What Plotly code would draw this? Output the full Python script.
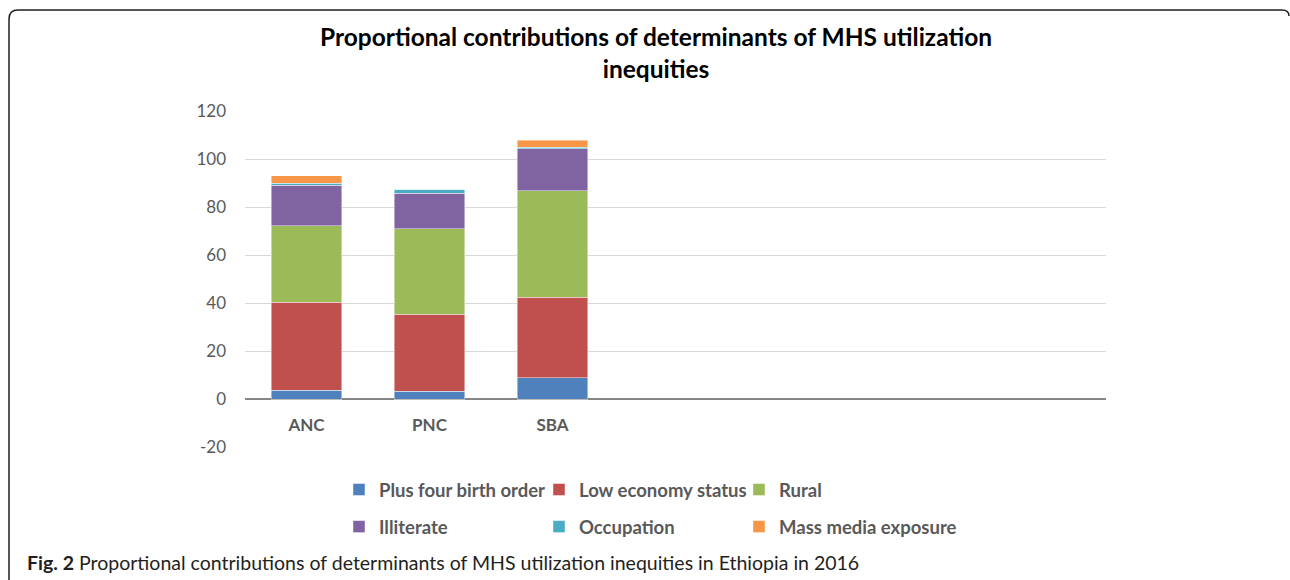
import plotly.graph_objects as go

categories = ["ANC", "PNC", "SBA"]
series_names = ["Plus four birth order", "Low economy status", "Rural",
                "Illiterate", "Occupation", "Mass media exposure"]
plus_four_birth_order = [3.6, 3.3, 8.8]
low_economy_status = [36.7, 32.1, 33.6]
rural = [31.9, 35.6, 44.4]
illiterate = [16.8, 14.7, 17.4]
occupation = [1.0, 1.8, 0.7]
mass_media_exposure = [3.1, 0.0, 2.9]
series_values = [plus_four_birth_order, low_economy_status, rural,
                 illiterate, occupation, mass_media_exposure]
colors = ["#4f81bd", "#c0504d", "#9bbb59", "#8064a2", "#4bacc6", "#f79646"]
y_ticks = [-20, 0, 20, 40, 60, 80, 100, 120]
y_tick_labels = ["-20", "0", "20", "40", "60", "80", "100", "120"]
y_range = [-20, 120]

W, H = 1290, 580
ML, MR, MT, MB = 245, 184, 111, 133
PW, PH = W - ML - MR, H - MT - MB


def px(x):
    return (x - ML) / PW


def py(y):
    return (H - MB - y) / PH


legend_ids = ["legend", "legend2", "legend3"]

fig = go.Figure()
xpos = list(range(len(categories)))
for i, (name, vals, col) in enumerate(zip(series_names, series_values, colors)):
    fig.add_trace(go.Bar(
        x=xpos, y=vals, name=name, width=0.57,
        marker=dict(color=col, line=dict(color="rgba(255,255,255,0.55)", width=0.8)),
        legend=legend_ids[i % 3], legendgroup=f"g{i}",
    ))

font_main = "Lato, 'Open Sans', Arial, sans-serif"
legend_common = dict(
    orientation="v", xanchor="left", yanchor="middle",
    font=dict(family=font_main, size=18.5, color="#595959", weight="bold"),
    bgcolor="rgba(0,0,0,0)", borderwidth=0, itemclick=False,
    traceorder="grouped", tracegroupgap=10,
)

frame = (f"M {px(9)},{py(580)} L {px(9)},{py(19)} Q {px(9)},{py(10)} {px(18)},{py(10)} "
         f"L {px(1282)},{py(10)} Q {px(1289)},{py(10)} {px(1289)},{py(16)}")

zero_pos = (0 - y_range[0]) / (y_range[1] - y_range[0])

legend_layout = {
    lid: dict(x=px(339 + 200 * k), y=py(508.5), **legend_common)
    for k, lid in enumerate(legend_ids)
}

fig.update_layout(
    width=W, height=H,
    margin=dict(l=ML, r=MR, t=MT, b=MB, autoexpand=False),
    paper_bgcolor="white", plot_bgcolor="white",
    barmode="stack", bargap=0.43,
    showlegend=True,
    title=dict(
        text="Proportional contributions of determinants of MHS utilization<br>inequities",
        x=656 / W, xanchor="center", y=1 - 46 / H, yanchor="top",
        font=dict(family=font_main, size=24.5, color="#000000", weight="bold"),
    ),
    xaxis=dict(
        range=[-0.5, 6.5], tickmode="array", tickvals=xpos, ticktext=categories,
        anchor="free", position=zero_pos,
        showgrid=False, zeroline=False, showline=False, ticks="",
        tickfont=dict(family=font_main, size=17, color="#595959", weight="bold"),
        ticklabelstandoff=14, fixedrange=True,
    ),
    yaxis=dict(
        range=y_range, tickmode="array", tickvals=y_ticks, ticktext=y_tick_labels,
        showgrid=True, gridcolor="#d9d9d9", gridwidth=1,
        zeroline=True, zerolinecolor="#868686", zerolinewidth=2,
        showline=False, ticks="",
        tickfont=dict(family=font_main, size=17, color="#595959"),
        ticklabelstandoff=18, fixedrange=True,
    ),
    shapes=[dict(type="path", path=frame, xref="paper", yref="paper",
                 line=dict(color="#231f20", width=1.5))],
    annotations=[dict(
        text="<b>Fig. 2</b> Proportional contributions of determinants of MHS utilization inequities in Ethiopia in 2016",
        xref="paper", yref="paper", x=px(25), y=py(562), xanchor="left", yanchor="middle",
        showarrow=False, font=dict(family=font_main, size=19.5, color="#231f20"),
    )],
    **legend_layout,
)

fig.write_html("out.html", config={"displayModeBar": False},
               post_script="document.body.style.margin='0';")
